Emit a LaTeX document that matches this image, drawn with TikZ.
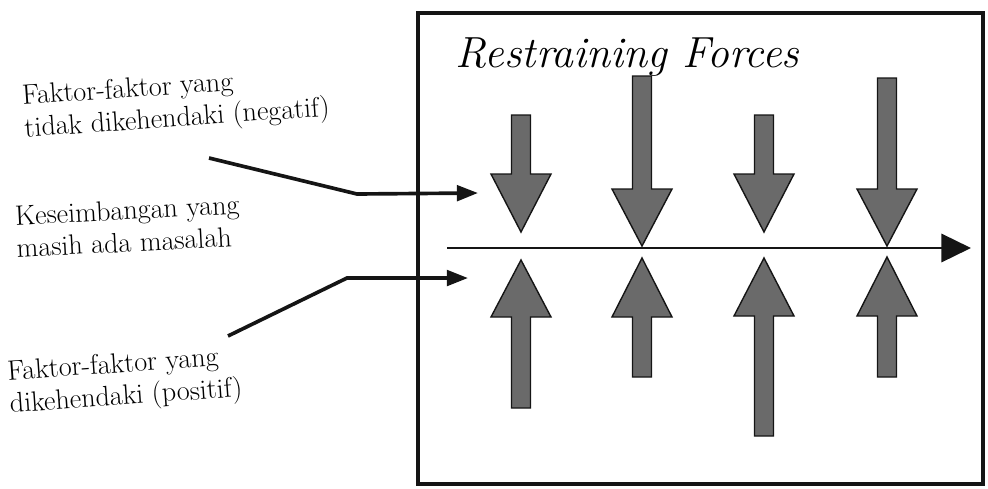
\documentclass[tikz,border=0pt]{standalone}
\usepackage{xcolor}
\usepackage{tikz}
\usetikzlibrary{arrows.meta}
\definecolor{forcefill}{HTML}{6A6A6A}
\definecolor{inkblack}{HTML}{151515}

\begin{document}
\begin{tikzpicture}[x=0.025cm, y=-0.025cm,
    sidetext/.style={align=left, font=\fontsize{20}{23}\selectfont, inner sep=0pt},
    leader/.style={inkblack, line width=2.6pt},
    force/.style={fill=forcefill, draw=inkblack, line width=1pt, line join=miter}]
          \useasboundingbox (0,0) rectangle (988,488);
          % frame and title
          \draw[inkblack, line width=2.6pt] (418,13) rectangle (983,484);
          \node[font=\fontsize{31}{32}\selectfont\itshape, anchor=west] (title) at (451,57) {Restraining Forces};
          % left labels
          \node[sidetext, rotate=4] (negtext) at (176,104) {Faktor-faktor yang\\tidak dikehendaki (negatif)};
          \node[sidetext, rotate=3] (baltext) at (128,226) {Keseimbangan yang\\masih ada masalah};
          \node[sidetext, rotate=4] (postext) at (125,382) {Faktor-faktor yang\\dikehendaki (positif)};
          % leaders into the frame
          \coordinate (negfree) at (209,158);
          \coordinate (negbend) at (357,194);
          \coordinate (negtip) at (478,193);
          \coordinate (posfree) at (228,336);
          \coordinate (posbend) at (347,278);
          \coordinate (postip) at (468,278);
          \draw[leader, -{Triangle[length=15pt, width=11pt]}] (negfree) -- (negbend) -- (negtip);
          \draw[leader, -{Triangle[length=15pt, width=11pt]}] (posfree) -- (posbend) -- (postip);
          % equilibrium line
          \coordinate (lineL) at (447,248);
          \coordinate (lineR) at (971,248);
          \draw[inkblack, line width=2pt, -{Triangle[length=21pt, width=20pt]}] (lineL) -- (lineR);
          % force arrows: x / shaft top / head base / tip, then tip / head base / shaft bottom
          \foreach \cx/\dtop/\dbase/\dtip/\utip/\ubase/\ubot in
              {521/115/174/232/260/317/408, 642/76/189/246/258/317/377,
               764/115/174/232/258/316/436, 887/78/189/246/257/316/377}{
            \draw[force] (\cx-9.5,\dtop) -- (\cx+9.5,\dtop) -- (\cx+9.5,\dbase) -- (\cx+30,\dbase)
              -- (\cx,\dtip) -- (\cx-30,\dbase) -- (\cx-9.5,\dbase) -- cycle;
            \draw[force] (\cx-9.5,\ubot) -- (\cx+9.5,\ubot) -- (\cx+9.5,\ubase) -- (\cx+30,\ubase)
              -- (\cx,\utip) -- (\cx-30,\ubase) -- (\cx-9.5,\ubase) -- cycle;
          }
        \end{tikzpicture}
\end{document}
